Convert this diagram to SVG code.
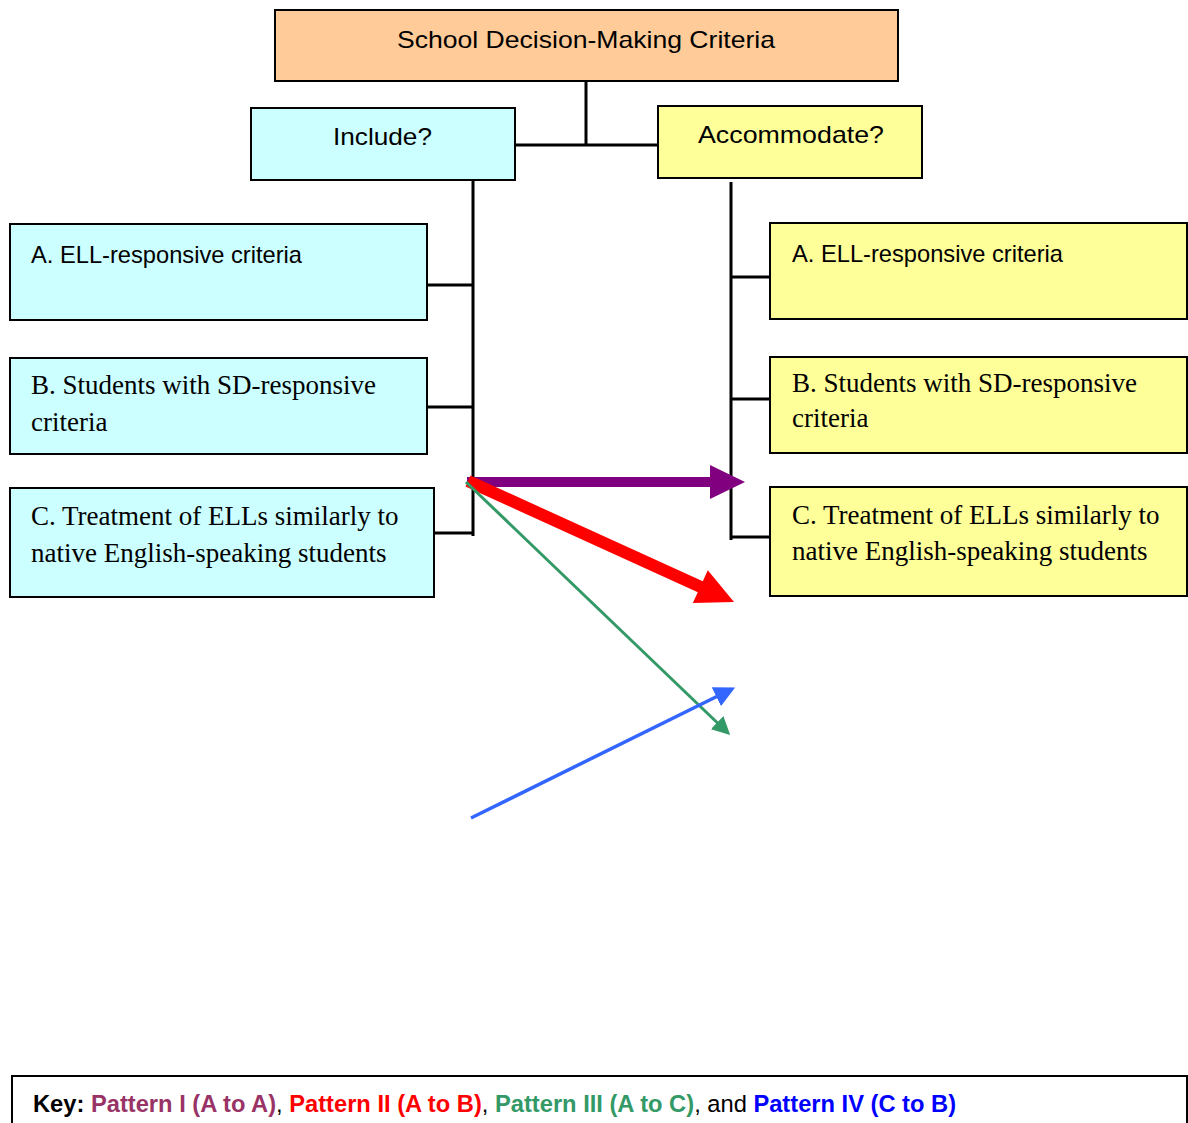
<svg xmlns="http://www.w3.org/2000/svg" width="1188" height="1123" viewBox="0 0 1188 1123">
<style>
.box{stroke:#000;stroke-width:2}
.org{fill:#FFCC99}
.cy{fill:#CCFFFF}
.ye{fill:#FFFF99}
.sans{font-family:"Liberation Sans","Open Sans",sans-serif;font-size:24px;fill:#000}
.serif{font-family:"Liberation Serif","Times New Roman",serif;font-size:27px;fill:#000}
.conn{stroke:#000;stroke-width:3;fill:none}
.key{font-family:"Liberation Sans","Open Sans",sans-serif;font-size:23.7px}
</style>
<defs>
<marker id="hg" markerWidth="6" markerHeight="6" refX="5" refY="3" orient="auto" markerUnits="strokeWidth"><path d="M0,0 L6,3 L0,6 Z" fill="#339966"/></marker>
<marker id="hb" markerWidth="6" markerHeight="6" refX="5" refY="3" orient="auto" markerUnits="strokeWidth"><path d="M0,0 L6,3 L0,6 Z" fill="#3366FF"/></marker>
</defs>
<rect width="1188" height="1123" fill="#fff"/>
<g id="connectors">
<path class="conn" d="M586,81 V145 M515,145 H658"/>
<path class="conn" d="M473,180 V536 M427,285 H473 M427,407 H473 M434,533 H473"/>
<path class="conn" d="M731,182 V540 M731,277 H770 M731,399 H770 M731,537 H770"/>
</g>
<g id="top"><rect class="box org" x="275" y="10" width="623" height="71"/><text class="sans" x="397" y="48" textLength="378" lengthAdjust="spacingAndGlyphs">School Decision-Making Criteria</text></g>
<g id="include"><rect class="box cy" x="251" y="108" width="264" height="72"/><text class="sans" x="333" y="145" textLength="99" lengthAdjust="spacingAndGlyphs">Include?</text></g>
<g id="accommodate"><rect class="box ye" x="658" y="106" width="264" height="72"/><text class="sans" x="698" y="143" textLength="186" lengthAdjust="spacingAndGlyphs">Accommodate?</text></g>
<g id="incA"><rect class="box cy" x="10" y="224" width="417" height="96"/><text class="sans" x="31" y="263" textLength="271" lengthAdjust="spacingAndGlyphs">A. ELL-responsive criteria</text></g>
<g id="incB"><rect class="box cy" x="10" y="358" width="417" height="96"/><text class="serif" x="31" y="394">B. Students with SD-responsive</text><text class="serif" x="31" y="431">criteria</text></g>
<g id="incC"><rect class="box cy" x="10" y="488" width="424" height="109"/><text class="serif" x="31" y="525">C. Treatment of ELLs similarly to</text><text class="serif" x="31" y="562">native English-speaking students</text></g>
<g id="accA"><rect class="box ye" x="770" y="223" width="417" height="96"/><text class="sans" x="792" y="262" textLength="271" lengthAdjust="spacingAndGlyphs">A. ELL-responsive criteria</text></g>
<g id="accB"><rect class="box ye" x="770" y="357" width="417" height="96"/><text class="serif" x="792" y="392">B. Students with SD-responsive</text><text class="serif" x="792" y="427">criteria</text></g>
<g id="accC"><rect class="box ye" x="770" y="487" width="417" height="109"/><text class="serif" x="792" y="524">C. Treatment of ELLs similarly to</text><text class="serif" x="792" y="560">native English-speaking students</text></g>
<g id="arrows">
<path d="M467,477 H710 V465 L745,482 L710,499 V487 H467 Z" fill="#800080"/>
<polygon points="470.5,475.5 702.8,581.2 707.8,570.3 734,602 692.8,603.1 697.8,592.2 465.5,486.5" fill="#FF0000"/>
<line x1="466" y1="482" x2="728" y2="733" stroke="#339966" stroke-width="3" marker-end="url(#hg)"/>
<line x1="471" y1="818" x2="732" y2="689" stroke="#3366FF" stroke-width="3.5" marker-end="url(#hb)"/>
</g>
<g id="key">
<rect x="12" y="1076" width="1175" height="60" fill="#fff" stroke="#000" stroke-width="2"/>
<text class="key" x="33" y="1112"><tspan font-weight="bold" fill="#000">Key:  </tspan><tspan font-weight="bold" fill="#993366">Pattern I (A to A)</tspan><tspan fill="#000">, </tspan><tspan font-weight="bold" fill="#FF0000">Pattern II (A to B)</tspan><tspan fill="#000">, </tspan><tspan font-weight="bold" fill="#339966">Pattern III (A to C)</tspan><tspan fill="#000">, and </tspan><tspan font-weight="bold" fill="#0000FF">Pattern IV (C to B)</tspan></text>
</g>
</svg>
